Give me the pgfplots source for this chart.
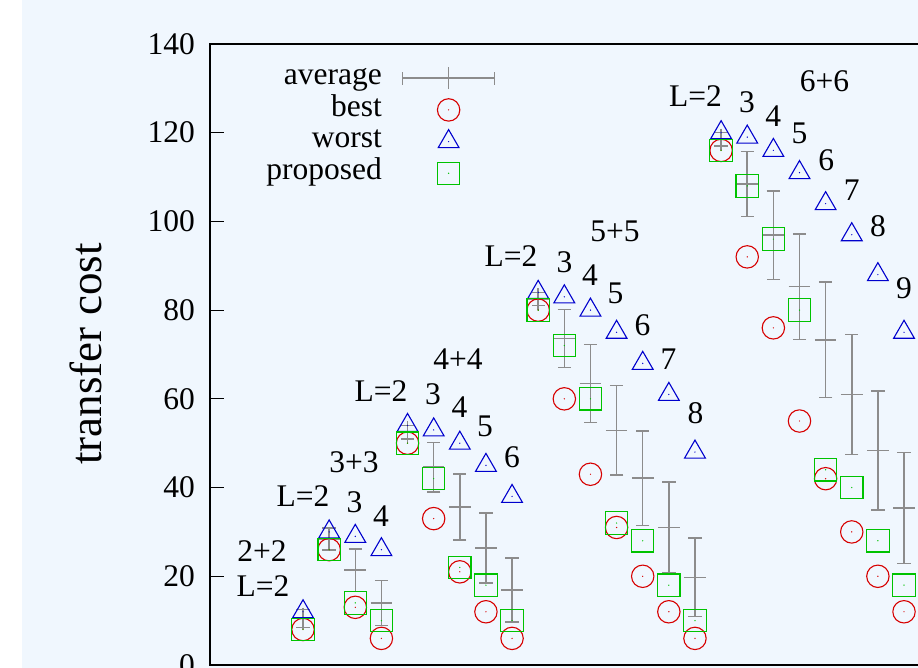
\documentclass[border=0pt]{standalone}
\usepackage{pgfplots}
\usepackage{pgfplotstable}
\pgfplotsset{compat=1.18}
\usepackage{fontspec}
\setmainfont{Liberation Serif}
\definecolor{bgc}{RGB}{240,247,254}
\definecolor{myred}{RGB}{215,0,0}
\definecolor{myblue}{RGB}{0,0,205}
\definecolor{mygreen}{RGB}{0,195,0}
\definecolor{errgray}{RGB}{140,140,140}
\pgfdeclareplotmark{codot}{%
  \pgfpathcircle{\pgfpointorigin}{\pgfplotmarksize}\pgfusepathqstroke
  \pgfpathcircle{\pgfpointorigin}{0.35bp}\pgfusepathqfill}
\pgfdeclareplotmark{tdot}{%
  \pgfpathmoveto{\pgfpointpolar{90}{\pgfplotmarksize}}%
  \pgfpathlineto{\pgfpointpolar{210}{\pgfplotmarksize}}%
  \pgfpathlineto{\pgfpointpolar{330}{\pgfplotmarksize}}%
  \pgfpathclose\pgfusepathqstroke
  \pgfpathcircle{\pgfpointorigin}{0.35bp}\pgfusepathqfill}
\pgfdeclareplotmark{sdot}{%
  \pgfpathrectangle{\pgfpoint{-\pgfplotmarksize}{-\pgfplotmarksize}}{\pgfpoint{2\pgfplotmarksize}{2\pgfplotmarksize}}\pgfusepathqstroke
  \pgfpathcircle{\pgfpointorigin}{0.35bp}\pgfusepathqfill}
\pgfplotstableread{
x mean err best worst prop
1 10.5 2 8 12 8
2 28.4 2.5 26 30 26
3 21.4 4.8 13 29 14
4 14.0 5.1 6 26 10
5 52.5 1.5 50 54 50
6 44.6 5.6 33 53 42
7 35.65 7.45 21 50 22
8 26.4 7.9 12 45 18
9 16.9 7.2 6 38 10
10 82.5 1.5 80 84 80
11 73.6 6.5 60 83 72
12 63.45 8.75 43 80 60
13 52.9 10.1 31 75 32
14 42.1 10.6 20 68 28
15 31.0 10.3 12 61 18
16 19.75 8.85 6 48 10
17 118.5 1.5 116 120 116
18 108.45 7.35 92 119 108
19 96.9 10 76 116 96
20 85.3 11.9 55 111 80
21 73.3 13 42 104 44
22 60.95 13.55 30 97 40
23 48.35 13.45 20 88 28
24 35.4 12.5 12 75 18
25 23 10 6 62 10
}\data
\begin{document}
\begin{tikzpicture}[font=\fontsize{15.75bp}{18bp}\selectfont]
\fill[white] (0,0) rectangle (459bp,334bp);
\fill[bgc] (11bp,0) rectangle (459bp,334bp);
\begin{scope}
\clip (0,0) rectangle (459bp,334bp);
\begin{axis}[
  at={(105bp,1.5bp)}, anchor=south west,
  x=13.065bp, y=2.218bp,
  xmin=-2.56, xmax=27, ymin=0, ymax=140,
  axis line style={line width=1.1bp},
  xtick=\empty,
  ytick={0,20,...,140},
  tick align=inside, major tick length=7bp,
  tick style={black, line width=0.5bp},
  /pgf/number format/assume math mode=true,
  yticklabel style={xshift=-4bp},
  clip=false,
  legend plot pos=right,
  legend style={at={(axis description cs:0.0725,0.971)}, anchor=north west,
    draw=none, fill=none, inner sep=0pt, legend cell align=right,
    nodes={inner sep=0pt, text height=11bp, text depth=4.85bp},
    /tikz/every odd column/.append style={column sep=10bp}, row sep=0pt},
  legend image code/.code={\path (0bp,0bp) (46bp,0bp); \draw[mark repeat=2,mark phase=2,#1] plot coordinates {(0bp,0bp) (23bp,0bp) (46bp,0bp)};},
]
\addplot[only marks, mark=+, mark size=5.4bp, errgray, line width=0.75bp,
  legend image code/.code={\draw[errgray, line width=0.75bp] (0bp,0bp) -- (46bp,0bp) (0bp,-3.33bp) -- (0bp,3.33bp) (46bp,-3.33bp) -- (46bp,3.33bp) (23bp,-5.4bp) -- (23bp,5.4bp);},
  error bars/.cd, y dir=both, y explicit,
  error bar style={line width=0.75bp, errgray},
  error mark options={mark size=3.33bp, errgray, line width=0.75bp, rotate=90}]
  table[x=x, y=mean, y error=err] {\data};
\addlegendentry{average}
\addplot[only marks, mark=codot, mark size=5.6bp, myred, line width=0.55bp] table[x=x, y=best] {\data};
\addlegendentry{best}
\addplot[only marks, mark=tdot, mark size=6bp, myblue, line width=0.55bp] table[x=x, y=worst] {\data};
\addlegendentry{worst}
\addplot[only marks, mark=sdot, mark size=5.6bp, mygreen, line width=0.55bp] table[x=x, y=prop] {\data};
\addlegendentry{proposed}
\node at (axis cs:-0.57,25.7) {2+2};
\node at (axis cs:-0.53,17.81) {L=2};
\node at (axis cs:1.0,38.1) {L=2};
\node at (axis cs:2.97,36.8) {3};
\node at (axis cs:3.985,33.6) {4};
\node at (axis cs:2.95,45.8) {3+3};
\node at (axis cs:3.985,61.77) {L=2};
\node at (axis cs:5.975,61.1) {3};
\node at (axis cs:6.99,58.05) {4};
\node at (axis cs:7.965,53.77) {5};
\node at (axis cs:9.0,46.78) {6};
\node at (axis cs:6.93,68.98) {4+4};
\node at (axis cs:8.96,92.2) {L=2};
\node at (axis cs:11.01,90.74) {3};
\node at (axis cs:11.98,87.8) {4};
\node at (axis cs:12.96,83.75) {5};
\node at (axis cs:13.99,76.65) {6};
\node at (axis cs:14.99,68.98) {7};
\node at (axis cs:16.02,56.7) {8};
\node at (axis cs:12.94,97.84) {5+5};
\node at (axis cs:16.02,128.27) {L=2};
\node at (axis cs:17.99,126.8) {3};
\node at (axis cs:19.0,123.8) {4};
\node at (axis cs:20.0,119.8) {5};
\node at (axis cs:21.02,113.7) {6};
\node at (axis cs:22.0,107.0) {7};
\node at (axis cs:23.0,99.0) {8};
\node at (axis cs:24.0,85.0) {9};
\node at (axis cs:20.96,131.7) {6+6};
\node at (axis cs:25.05,72.5) {10};
\node[rotate=90, font=\fontsize{22.5bp}{26bp}\selectfont] at (axis cs:-7.305,70.1) {transfer cost};
\end{axis}
\end{scope}
\pgfresetboundingbox
\useasboundingbox (0,0) rectangle (459bp,334bp);
\end{tikzpicture}
\end{document}
